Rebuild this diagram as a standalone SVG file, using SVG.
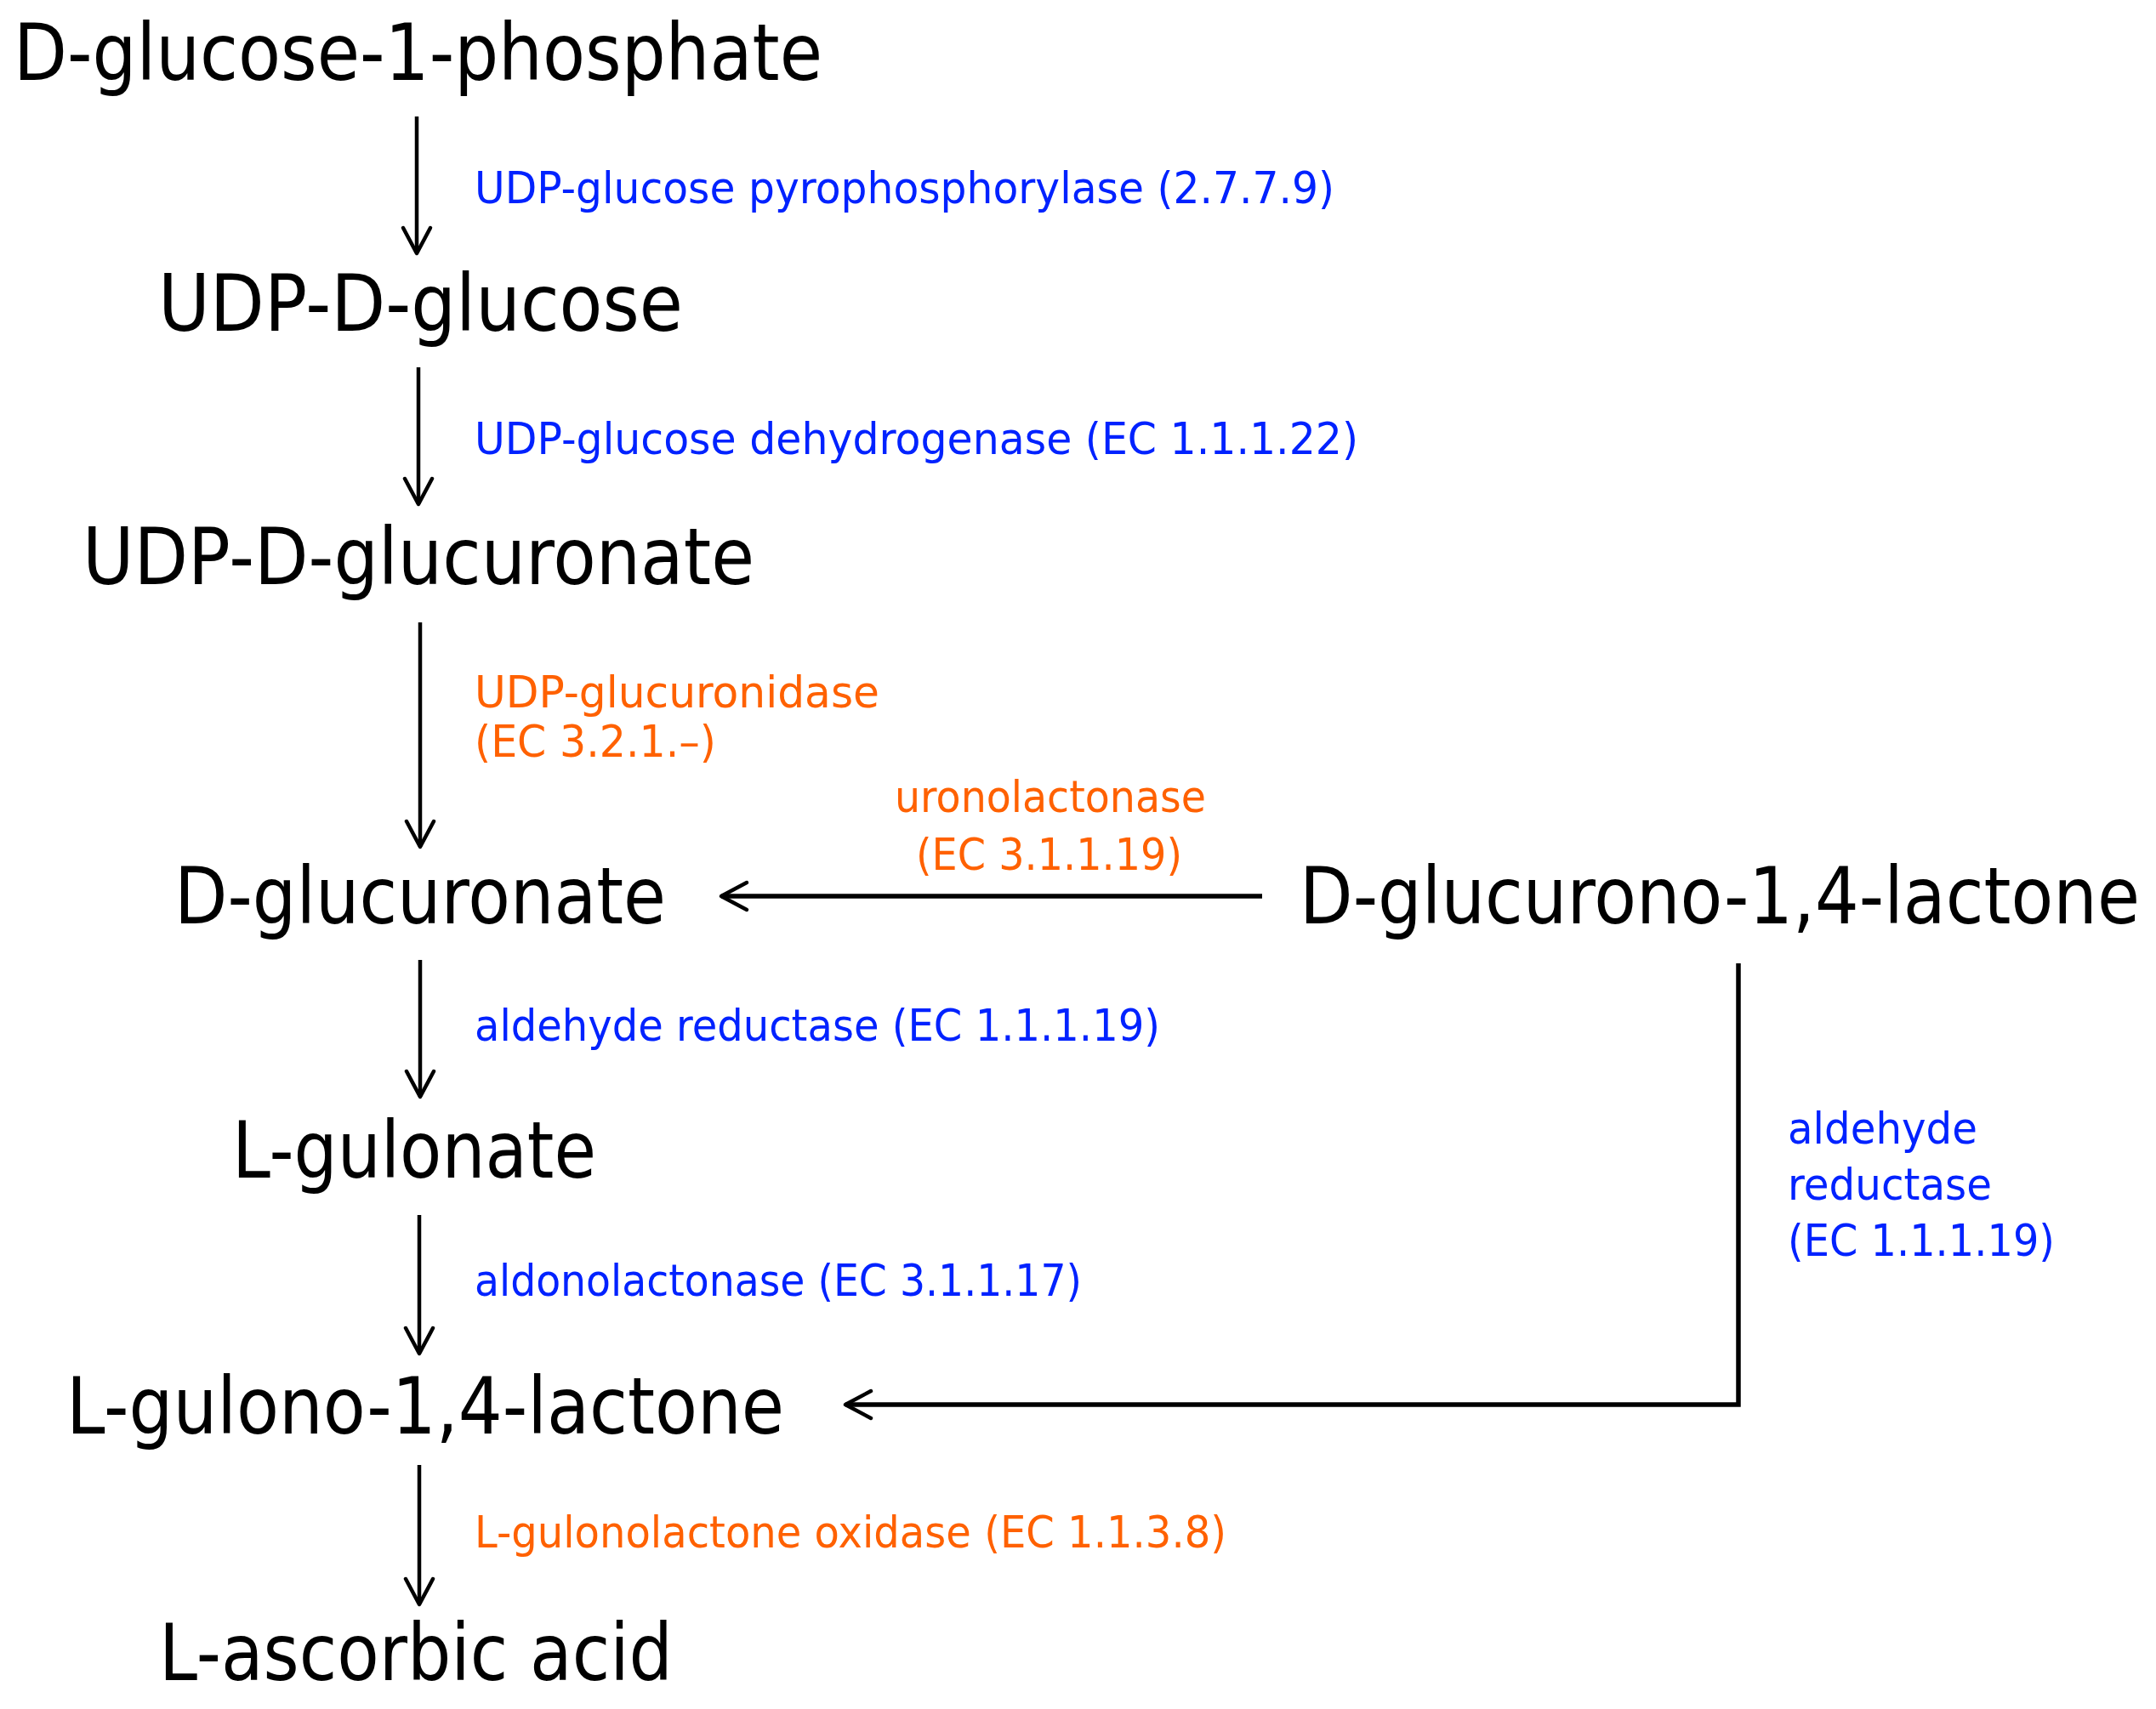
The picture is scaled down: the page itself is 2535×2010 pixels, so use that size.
<svg xmlns="http://www.w3.org/2000/svg" width="2535" height="2010" viewBox="0 0 2535 2010">
<style>
.n{font-family:"DejaVu Sans",Verdana,sans-serif;font-size:92px;fill:#000}
.b{font-family:"DejaVu Sans",Verdana,sans-serif;font-size:52px;fill:#0022ff}
.o{font-family:"DejaVu Sans",Verdana,sans-serif;font-size:52px;fill:#ff6100}
.a{fill:none;stroke:#000;stroke-width:4.5}
.h{fill:none;stroke:#000;stroke-width:5.5}
</style>
<defs>
<marker id="ah" markerUnits="userSpaceOnUse" viewBox="-36 -22 42 44" markerWidth="42" markerHeight="44" refX="0" refY="0" orient="auto">
<path d="M-30,-16 L0,0 L-30,16" fill="none" stroke="#000" stroke-width="4.5" stroke-linecap="round" stroke-linejoin="round"/>
</marker>
</defs>
<rect width="2535" height="2010" fill="#fff"/>
<g id="connectors">
<line class="a" x1="490" y1="137" x2="490" y2="298" marker-end="url(#ah)"/>
<line class="a" x1="492" y1="432" x2="492" y2="593" marker-end="url(#ah)"/>
<line class="a" x1="494" y1="732" x2="494" y2="996" marker-end="url(#ah)"/>
<line class="a" x1="494" y1="1129" x2="494" y2="1290" marker-end="url(#ah)"/>
<line class="a" x1="493" y1="1429" x2="493" y2="1592" marker-end="url(#ah)"/>
<line class="a" x1="493" y1="1723" x2="493" y2="1887" marker-end="url(#ah)"/>
<line class="h" x1="1484" y1="1054" x2="848" y2="1054" marker-end="url(#ah)"/>
<path class="h" d="M2044,1133 L2044,1652 L994,1652" marker-end="url(#ah)"/>
</g>
<g id="n1"><text class="n" x="16" y="94" textLength="951" lengthAdjust="spacingAndGlyphs">D-glucose-1-phosphate</text></g>
<g id="n2"><text class="n" x="186" y="389" textLength="617" lengthAdjust="spacingAndGlyphs">UDP-D-glucose</text></g>
<g id="n3"><text class="n" x="97" y="687" textLength="790" lengthAdjust="spacingAndGlyphs">UDP-D-glucuronate</text></g>
<g id="n4"><text class="n" x="205" y="1086" textLength="578" lengthAdjust="spacingAndGlyphs">D-glucuronate</text></g>
<g id="n5"><text class="n" x="1528" y="1086" textLength="988" lengthAdjust="spacingAndGlyphs">D-glucurono-1,4-lactone</text></g>
<g id="n6"><text class="n" x="273" y="1385" textLength="428" lengthAdjust="spacingAndGlyphs">L-gulonate</text></g>
<g id="n7"><text class="n" x="78" y="1686" textLength="844" lengthAdjust="spacingAndGlyphs">L-gulono-1,4-lactone</text></g>
<g id="n8"><text class="n" x="187" y="1976" textLength="604" lengthAdjust="spacingAndGlyphs">L-ascorbic acid</text></g>
<g id="labels">
<text class="b" x="558" y="239" textLength="1011" lengthAdjust="spacingAndGlyphs">UDP-glucose pyrophosphorylase (2.7.7.9)</text>
<text class="b" x="558" y="534" textLength="1039" lengthAdjust="spacingAndGlyphs">UDP-glucose dehydrogenase (EC 1.1.1.22)</text>
<text class="o" x="558" y="832" textLength="476" lengthAdjust="spacingAndGlyphs">UDP-glucuronidase</text>
<text class="o" x="558" y="890" textLength="284" lengthAdjust="spacingAndGlyphs">(EC 3.2.1.–)</text>
<text class="o" x="1052" y="955" textLength="366" lengthAdjust="spacingAndGlyphs">uronolactonase</text>
<text class="o" x="1077" y="1023" textLength="313" lengthAdjust="spacingAndGlyphs">(EC 3.1.1.19)</text>
<text class="b" x="558" y="1224" textLength="806" lengthAdjust="spacingAndGlyphs">aldehyde reductase (EC 1.1.1.19)</text>
<text class="b" x="558" y="1524" textLength="714" lengthAdjust="spacingAndGlyphs">aldonolactonase (EC 3.1.1.17)</text>
<text class="o" x="558" y="1820" textLength="884" lengthAdjust="spacingAndGlyphs">L-gulonolactone oxidase (EC 1.1.3.8)</text>
<text class="b" x="2102" y="1345" textLength="223" lengthAdjust="spacingAndGlyphs">aldehyde</text>
<text class="b" x="2102" y="1411" textLength="240" lengthAdjust="spacingAndGlyphs">reductase</text>
<text class="b" x="2102" y="1477" textLength="314" lengthAdjust="spacingAndGlyphs">(EC 1.1.1.19)</text>
</g>
</svg>
